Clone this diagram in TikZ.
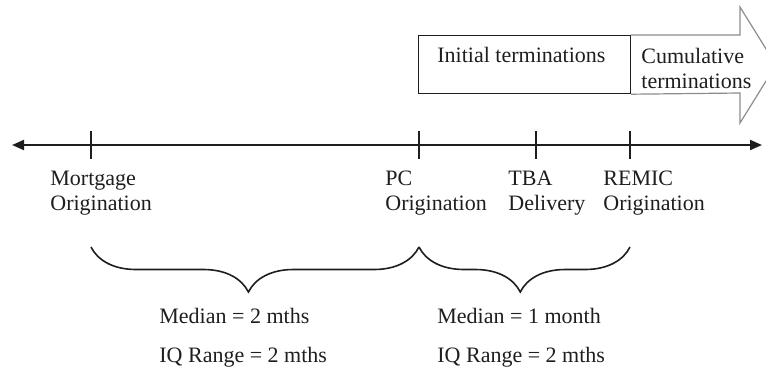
\documentclass[tikz,border=0pt]{standalone}
\usepackage{fontspec}
\setmainfont{Liberation Serif}
\usetikzlibrary{arrows.meta, positioning, calc, decorations.pathreplacing}
\definecolor{lineblack}{HTML}{1E1E1E}
\definecolor{arrowgray}{HTML}{8C8C8C}

\begin{document}
\begin{tikzpicture}[x=0.5pt, y=-0.5pt,
    every node/.style={font=\fontsize{11}{12.5}\selectfont, inner sep=0pt, text=lineblack},
    evtick/.style={draw=lineblack, line width=1pt},
    evlabel/.style={anchor=base west, align=left},
    stat/.style={anchor=base west},
    span/.style={draw=lineblack, line width=0.8pt, decorate,
      decoration={brace, mirror, amplitude=22.5pt, aspect=0.48}},
    >={Triangle[length=6pt, width=5pt]}
  ]
  \useasboundingbox (0,0) rectangle (766,371);
  \clip (0,0) rectangle (766,371);

  % time line and events
  \coordinate (tlstart) at (12,145);
  \coordinate (tlend) at (762,145);
  \draw[lineblack, line width=1pt, <->] (tlstart) -- (tlend);
  \foreach \x/\name in {91/mort, 419/pc, 536/tba, 630/remic} {
    \coordinate (\name) at (\x,145);
    \draw[evtick] ([yshift=7pt]\name) -- ([yshift=-7pt]\name);
  }
  \node[evlabel] (mortlabel) at (50,210) {Mortgage\\Origination};
  \node[evlabel] (pclabel) at (385,210) {PC\\Origination};
  \node[evlabel] (tbalabel) at (508,210) {TBA\\Delivery};
  \node[evlabel] (remiclabel) at (603,210) {REMIC\\Origination};

  % termination arrow
  \node[draw=lineblack, line width=0.6pt, anchor=north west,
    minimum width=106pt, minimum height=29pt] (initbox) at (418,35) {};
  \draw[arrowgray, line width=0.6pt] (initbox.north east) -- (740,35) -- (740,7)
    -- (776,65) -- (740,123) -- (740,93) -- (initbox.south east);
  \node[anchor=base west] (inittext) at (437,62) {Initial terminations};
  \node[evlabel] (cumtext) at (641,88) {Cumulative\\terminations};

  % braces and statistics
  \draw[span] ([yshift=-51pt]mort) -- ([yshift=-51pt]pc);
  \draw[span] ([yshift=-51pt]pc) -- ([yshift=-51pt]remic);
  \node[stat] (med1) at (159,323) {Median = 2 mths};
  \node[stat] (iq1) at (159,362) {IQ Range = 2 mths};
  \node[stat] (med2) at (437,323) {Median = 1 month};
  \node[stat] (iq2) at (437,362) {IQ Range = 2 mths};
\end{tikzpicture}
\end{document}
